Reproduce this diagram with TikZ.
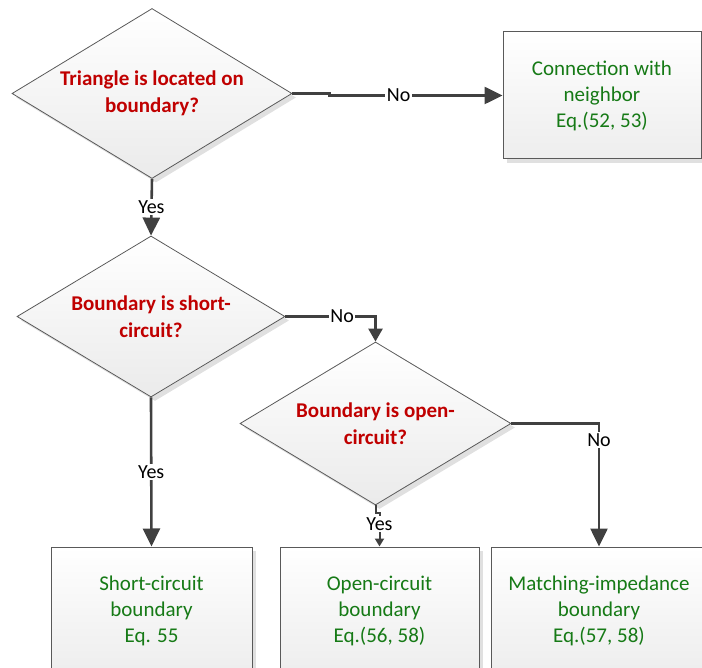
\documentclass[tikz,border=0pt]{standalone}
\usepackage{fontspec}
\setmainfont{Carlito}
\usepackage{tikz}
\usetikzlibrary{shapes,arrows.meta,positioning,calc,shadows}
\definecolor{askred}{RGB}{192,0,0}
\definecolor{eqgreen}{RGB}{22,122,22}
\definecolor{flowgray}{RGB}{64,64,64}
\tikzstyle{decision} = [diamond, aspect=1.65, draw=black!65, line width=0.8pt, top color=white, bottom color=black!8, drop shadow={shadow xshift=4pt, shadow yshift=-4pt, fill=black!12, opacity=1}, inner sep=0pt, align=center, text=askred, font=\fontsize{21}{27}\selectfont\bfseries]
\tikzstyle{result} = [rectangle, draw=black!65, line width=1pt, top color=white, bottom color=black!7, drop shadow={shadow xshift=4pt, shadow yshift=-4pt, fill=black!12, opacity=1}, align=center, text=eqgreen, font=\fontsize{21}{26}\selectfont]
\tikzstyle{flow} = [line width=2.6pt, draw=flowgray, -{Triangle[length=18pt,width=17pt]}]
\tikzstyle{lbl} = [fill=white, inner sep=1.5pt, text=black, font=\fontsize{20}{24}\selectfont]

\begin{document}
\begin{tikzpicture}[x=1pt, y=-1pt]
    \useasboundingbox (0,0) rectangle (702,668);
    \clip (0,0) rectangle (702,668);
    % questions
    \node[decision, minimum width=280pt, minimum height=170pt] (tri) at (152,93.5) {Triangle is located on\\boundary?};
    \node[decision, minimum width=268pt, minimum height=161pt] (short) at (151,316.5) {Boundary is short-\\circuit?};
    \node[decision, minimum width=271pt, minimum height=163pt] (open) at (375.5,423.5) {Boundary is open-\\circuit?};
    % outcomes
    \node[result, minimum width=198pt, minimum height=127pt] (conn) at (602,95.5) {Connection with\\neighbor\\Eq.(52, 53)};
    \node[result, minimum width=201pt, minimum height=127pt] (scbox) at (151.5,610.5) {Short-circuit\\boundary\\Eq. 55};
    \node[result, minimum width=199pt, minimum height=127pt] (ocbox) at (379.5,610.5) {Open-circuit\\boundary\\Eq.(56, 58)};
    \node[result, minimum width=216pt, minimum height=127pt] (mibox) at (599,610.5) {Matching-impedance\\boundary\\Eq.(57, 58)};
    % connectors
    \draw[flow] (tri.east) -- ++(37,0) |- node[lbl, pos=0.7] {No} (conn.west);
    \draw[flow] (tri.south) -- node[lbl] {Yes} (short.north);
    \draw[flow, -{Triangle[length=13pt,width=14pt]}] (short.east) -| node[lbl, pos=0.315] {No} (open.north);
    \draw[flow] (short.south) -- node[lbl] {Yes} (scbox.north);
    \draw[flow] (open.east) -| node[lbl, pos=0.567] {No} (mibox.north);
    \draw[flow, line width=2pt, -{Triangle[length=8pt,width=9pt]}] (open.south) -- ++(0,8) -| node[lbl, pos=0.667] {Yes} (ocbox.north);
\end{tikzpicture}
\end{document}
